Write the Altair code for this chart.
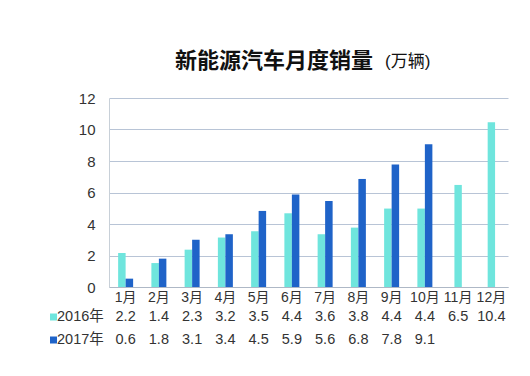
import altair as alt
import pandas as pd

months = ["1月", "2月", "3月", "4月", "5月", "6月", "7月", "8月", "9月", "10月", "11月", "12月"]
bars_2016 = [2.16, 1.52, 2.37, 3.14, 3.54, 4.68, 3.35, 3.77, 4.98, 4.98, 6.48, 10.46]
bars_2017 = [0.53, 1.8, 3.0, 3.35, 4.83, 5.88, 5.46, 6.86, 7.77, 9.06]
table_2016 = ["2.2", "1.4", "2.3", "3.2", "3.5", "4.4", "3.6", "3.8", "4.4", "4.4", "6.5", "10.4"]
table_2017 = ["0.6", "1.8", "3.1", "3.4", "4.5", "5.9", "5.6", "6.8", "7.8", "9.1"]
years = ["2016", "2017"]
row_labels = ["2016年", "2017年"]
title_main = "新能源汽车月度销量"
title_unit = "(万辆)"
y_ticks = [0, 2, 4, 6, 8, 10, 12]

TEAL = "#6FE5DD"
BLUE = "#1F63C8"
FONT = "Liberation Sans, Noto Sans CJK SC"
TXT = "#333333"

n17 = len(bars_2017)
paired = pd.DataFrame({
    "month": months[:n17] * 2,
    "year": ["2016"] * n17 + ["2017"] * n17,
    "value": bars_2016[:n17] + bars_2017,
})
single = pd.DataFrame({
    "month": months[n17:],
    "year": ["2016"] * (len(months) - n17),
    "value": bars_2016[n17:],
})
t16 = pd.DataFrame({"month": months, "label": table_2016})
t17 = pd.DataFrame({"month": months[:n17], "label": table_2017})

p_in = 1 - 15 / 33.25
xscale = alt.Scale(domain=months, paddingInner=p_in, paddingOuter=p_in / 2)
xaxis = alt.Axis(title=None, labelAngle=0, labelFontSize=14, labelColor=TXT, labelFont=FONT,
                 ticks=False, labelPadding=3, domainColor="#AEB8C6", grid=False)
yaxis = alt.Axis(title=None, values=y_ticks, labelFontSize=15, labelColor=TXT, labelFont=FONT,
                 ticks=False, labelPadding=14, domainColor="#C8D0D8", gridColor="#B8C4D6",
                 grid=True)
xenc = alt.X("month:N", sort=months, scale=xscale, axis=xaxis)
yenc = alt.Y("value:Q", scale=alt.Scale(domain=[0, 12], nice=False), axis=yaxis)
cenc = alt.Color("year:N", scale=alt.Scale(domain=years, range=[TEAL, BLUE]), legend=None)

bars_pair = alt.Chart(paired).mark_bar().encode(
    x=xenc,
    xOffset=alt.XOffset("year:N", scale=alt.Scale(domain=years, paddingInner=0, paddingOuter=0)),
    y=yenc,
    color=cenc,
)
bars_single = alt.Chart(single).mark_bar(width=7.4).encode(x=xenc, y=yenc, color=cenc)

ROW1 = 219
ROW2 = 242
tx1 = alt.Chart(t16).mark_text(fontSize=14.5, font=FONT, color=TXT, baseline="middle").encode(
    x=xenc, y=alt.value(ROW1), text="label:N")
tx2 = alt.Chart(t17).mark_text(fontSize=14.5, font=FONT, color=TXT, baseline="middle").encode(
    x=xenc, y=alt.value(ROW2), text="label:N")

lab1 = alt.Chart(pd.DataFrame({"t": [row_labels[0]]})).mark_text(
    fontSize=14.5, font=FONT, color=TXT, align="left", baseline="middle").encode(
    x=alt.value(-52), y=alt.value(ROW1), text="t:N")
lab2 = alt.Chart(pd.DataFrame({"t": [row_labels[1]]})).mark_text(
    fontSize=14.5, font=FONT, color=TXT, align="left", baseline="middle").encode(
    x=alt.value(-52), y=alt.value(ROW2), text="t:N")
sq1 = alt.Chart(pd.DataFrame({"t": [years[0]]})).mark_square(size=49, color=TEAL, opacity=1).encode(
    x=alt.value(-55.5), y=alt.value(ROW1))
sq2 = alt.Chart(pd.DataFrame({"t": [years[1]]})).mark_square(size=49, color=BLUE, opacity=1).encode(
    x=alt.value(-55.5), y=alt.value(ROW2))

ttl = alt.Chart(pd.DataFrame({"t": [title_main]})).mark_text(
    fontSize=22, fontWeight="bold", font="Noto Sans CJK SC", color="#111111",
    align="left", baseline="alphabetic").encode(x=alt.value(66), y=alt.value(-30), text="t:N")
unit = alt.Chart(pd.DataFrame({"t": [title_unit]})).mark_text(
    fontSize=17, font=FONT, color="#111111",
    align="left", baseline="alphabetic").encode(x=alt.value(276), y=alt.value(-31), text="t:N")

chart = alt.layer(bars_pair, bars_single, tx1, tx2, lab1, lab2, sq1, sq2, ttl, unit).properties(
    width=399, height=189,
    autosize=alt.AutoSizeParams(type="none"),
    padding={"left": 109, "top": 98, "right": 22, "bottom": 89},
    background="white",
).configure_view(stroke=None)

chart.save("out.html", embed_options={"renderer": "svg", "actions": False})
